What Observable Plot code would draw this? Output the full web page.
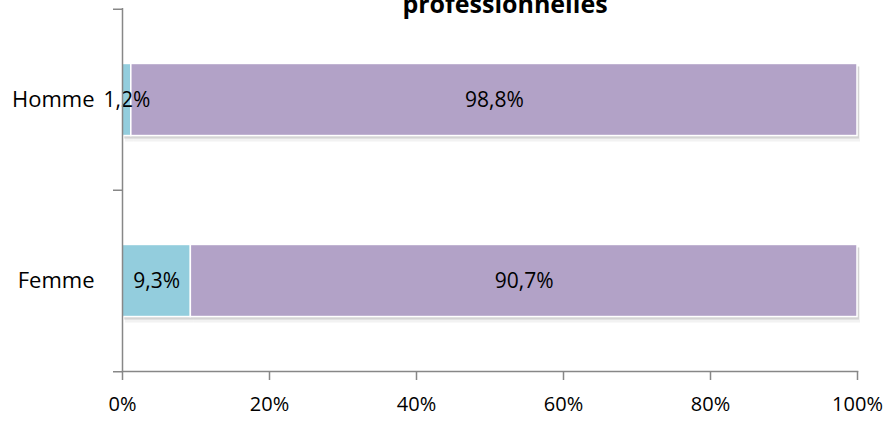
<!DOCTYPE html>
<html>
<head>
<meta charset="utf-8">
<script src="https://cdn.jsdelivr.net/npm/d3@7"></script>
<script src="https://cdn.jsdelivr.net/npm/@observablehq/plot@0.6"></script>
<style>
  html, body { margin: 0; padding: 0; background: #fff; }
  #wrap { position: relative; width: 885px; height: 423px; overflow: hidden; }
  #title { position: absolute; left: 0; width: 1010px; text-align: center; top: -12px;
    font-family: "Open Sans", sans-serif; font-weight: bold; font-size: 25px; color: #000; line-height: 30px; }
  #wrap svg { position: absolute; left: 0; top: 0; }
</style>
</head>
<body>
<div id="wrap"><div id="title">professionnelles</div></div>
<script>
const categories = ["Homme", "Femme"];
const series = ["Oui", "Non"];
const valuesOui = [1.2, 9.3];
const valuesNon = [98.8, 90.7];
const xTicks = [0, 20, 40, 60, 80, 100];
const colors = ["#93cddd", "#b2a2c7"];

const data = [];
categories.forEach((c, i) => {
  data.push({sexe: c, cat: series[0], value: valuesOui[i]});
  data.push({sexe: c, cat: series[1], value: valuesNon[i]});
});

const W = 885, H = 423, mT = 8, mB = 52, mL = 122, mR = 28;
const step = (H - mT - mB) / categories.length;
const inset = step * 0.3;
const fmt = v => v.toFixed(1).replace(".", ",") + "%";
const axisColor = "#878787";
const font = "Open Sans, sans-serif";

const chart = Plot.plot({
  width: W, height: H,
  marginTop: mT, marginBottom: mB, marginLeft: mL, marginRight: mR,
  style: {fontFamily: font, fontSize: "20px", color: "#000", background: "transparent"},
  x: {domain: [0, 100], axis: null, label: null},
  y: {domain: categories, padding: 0, axis: null, label: null},
  color: {domain: series, range: colors},
  marks: [
    // shadow
    Plot.barX(data, Plot.stackX({x: "value", y: "sexe", z: "cat", order: series, fill: "#000", fillOpacity: 0.12,
      insetTop: inset, insetBottom: inset, dx: 2, dy: 3})),
    Plot.barX(data, Plot.stackX({x: "value", y: "sexe", z: "cat", order: series, fill: "#000", fillOpacity: 0.05,
      insetTop: inset - 1, insetBottom: inset - 2, dx: 3, dy: 4})),
    Plot.barX(data, Plot.stackX({x: "value", y: "sexe", z: "cat", fill: "cat", order: series,
      insetTop: inset, insetBottom: inset, stroke: "#fff", strokeWidth: 1.5})),
    Plot.text(data, Plot.stackX({x: "value", y: "sexe", z: "cat", order: series,
      text: d => fmt(d.value), fill: "#000", fontSize: 21})),
    // y axis line and boundary ticks
    Plot.ruleX([0], {stroke: axisColor, strokeWidth: 1.5}),
    Plot.axisY(categories, {tickSize: 9, tickFormat: () => "", dy: -step / 2, stroke: axisColor, strokeWidth: 1.5, label: null}),
    Plot.axisY([categories[categories.length - 1]], {tickSize: 9, tickFormat: () => "", dy: step / 2, stroke: axisColor, strokeWidth: 1.5, label: null}),
    Plot.axisY({tickSize: 0, tickPadding: 28, fontSize: 22, fill: "#000", label: null}),
    // x axis
    Plot.frame({anchor: "bottom", stroke: axisColor, strokeWidth: 1.5}),
    Plot.axisX({ticks: xTicks, tickSize: 9, tickPadding: 16, tickFormat: d => d + "%",
      stroke: axisColor, strokeWidth: 1.5, fill: "#000", fontSize: 20, label: null})
  ]
});
document.getElementById("wrap").appendChild(chart);
</script>
</body>
</html>
